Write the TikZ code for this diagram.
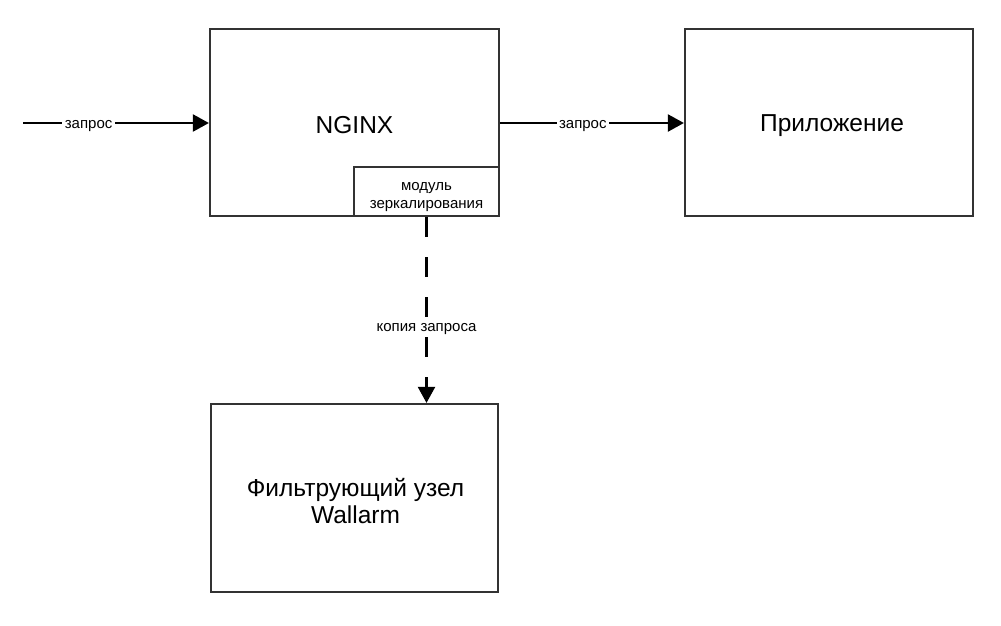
\documentclass[tikz,border=0pt]{standalone}
\usepackage{fontspec}
\setmainfont{Liberation Sans}
\usetikzlibrary{arrows.meta}
\definecolor{boxline}{HTML}{333333}
\tikzset{
  bigbox/.style={draw=boxline, line width=2.2pt, fill=white, inner sep=0pt},
  modbox/.style={draw=boxline, line width=2.2pt, fill=white, inner sep=0pt},
  bigtext/.style={font=\fontsize{24.5}{27}\selectfont, align=center},
  smalltext/.style={font=\fontsize{15}{18}\selectfont, align=center},
  conn/.style={line width=2.2pt, -{Triangle[length=16pt,width=17pt]}},
  lbl/.style={fill=white, inner sep=2.5pt, font=\fontsize{15}{18}\selectfont},
  dashconn/.style={conn, dash pattern=on 20pt off 20pt}
}
\begin{document}
\begin{tikzpicture}[x=1pt,y=-1pt]
\useasboundingbox (0,0) rectangle (1001,625);
\node[bigbox, minimum width=289pt, minimum height=187pt] (nginx) at (354.5,122.5) {};
\node[bigtext] (nginxlbl) at (354.5,125) {NGINX};
\node[modbox, minimum width=145pt, minimum height=49pt] (mod) at (426.5,191.5) {};
\node[smalltext] (modlbl) at (426.5,197.5) {модуль\\зеркалирования};
\node[bigbox, minimum width=288pt, minimum height=187pt] (app) at (829,122.5) {};
\node[bigtext] (applbl) at (832,126) {Приложение};
\node[bigbox, minimum width=287pt, minimum height=188pt] (wall) at (354.5,498) {};
\node[bigtext] (wlbl) at (355.5,501) {Фильтрующий узел\\Wallarm};
\coordinate (in) at (23,123);
\draw[conn] (in) -- (nginx.west |- in) node[lbl, pos=0.353, yshift=-3pt] (l1) {запрос};
\draw[conn] (nginx.east |- in) -- (app.west |- in) node[lbl, pos=0.45, yshift=-3pt] (l2) {запрос};
\draw[dashconn] (mod.south) -- (mod.south |- wall.north) node[lbl, pos=0.59, yshift=-2pt] (l3) {копия запроса};
\end{tikzpicture}
\end{document}
